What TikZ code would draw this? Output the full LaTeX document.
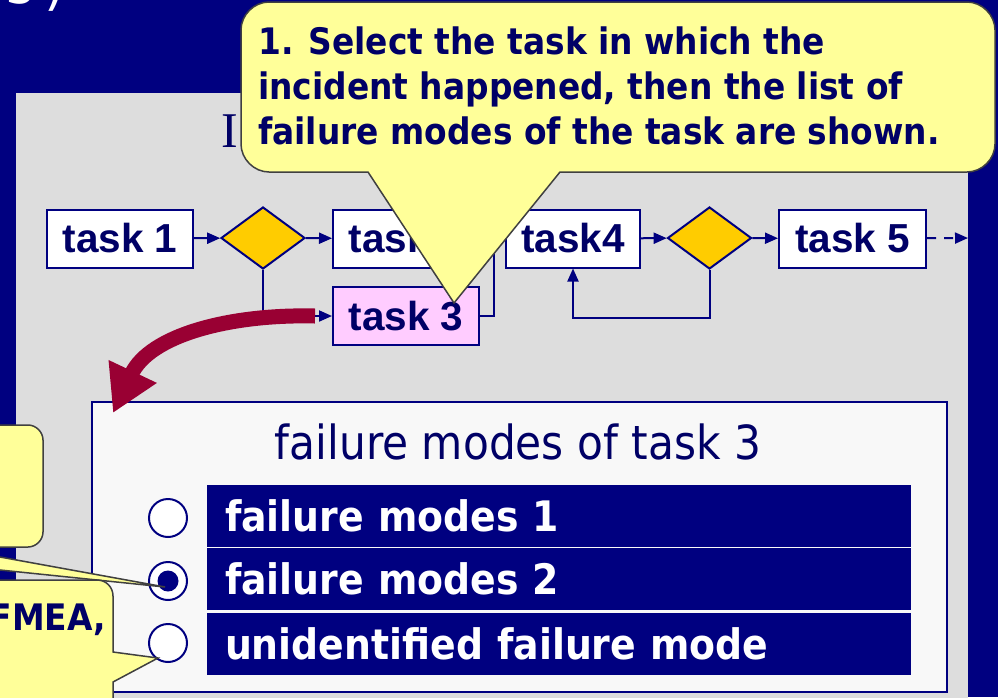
\documentclass[tikz,border=0pt]{standalone}
\usepackage{fontspec}
\usetikzlibrary{arrows.meta,shapes.geometric}
\newfontfamily\tahoma[FakeStretch=0.9]{DejaVu Sans}
\newfontfamily\arialf{Liberation Sans}
\newfontfamily\timesf{Liberation Serif}
\definecolor{navybg}{HTML}{000080}
\definecolor{panelgray}{HTML}{DDDDDD}
\definecolor{txtnavy}{HTML}{000066}
\definecolor{calloutfill}{HTML}{FFFF99}
\definecolor{calloutline}{HTML}{404040}
\definecolor{diafill}{HTML}{FFCC00}
\definecolor{pinkfill}{HTML}{FFCCFF}
\definecolor{redarrow}{HTML}{990033}
\definecolor{listbg}{HTML}{F8F8F8}
\begin{document}
\begin{tikzpicture}[x=1pt,y=-1pt,
 taskbox/.style={draw=navybg, line width=2pt, fill=white, minimum width=146pt, minimum height=58pt, inner sep=0pt, text=txtnavy, font=\arialf\bfseries\fontsize{40.5}{44}\selectfont},
 decision/.style={diamond, draw=navybg, line width=2pt, fill=diafill, minimum width=84pt, minimum height=62pt, inner sep=0pt},
 conn/.style={draw=navybg, line width=2pt, -{Triangle[length=13pt,width=11pt]}},
 callout/.style={fill=calloutfill, draw=calloutline, line width=1.5pt, line join=miter},
 optbar/.style={fill=navybg, minimum width=704pt, minimum height=62pt, inner xsep=18pt, text width=668pt, align=left, text=white, font=\tahoma\bfseries\fontsize{42}{46}\selectfont},
 radio/.style={circle, draw=navybg, line width=2pt, fill=white, minimum size=38pt, inner sep=0pt},
]
\useasboundingbox (0,0) rectangle (998,697);
\clip (0,0) rectangle (998,697);
% background
\fill[navybg] (0,0) rectangle (998,697);
\node[anchor=base west, inner sep=0pt, text=white, font=\tahoma\fontsize{60}{64}\selectfont] (ttl) at (6,3) {s\kern10pt)};
% gray panel
\fill[panelgray] (16,93) rectangle (968,705);
\node[anchor=base west, inner sep=0pt, text=txtnavy, font=\timesf\fontsize{50}{54}\selectfont] (ptitle) at (221,147) {I};
% flow
\node[taskbox] (t1) at (120,238.5) {task 1};
\node[decision] (d1) at (263,238) {};
\node[taskbox] (t2) at (406,238.5) {task 2};
\node[taskbox, fill=pinkfill] (t3) at (406,316) {task 3};
\node[taskbox, minimum width=134pt] (t4) at (573,238.5) {task4};
\node[decision] (d2) at (709.5,238) {};
\node[taskbox, minimum width=147pt] (t5) at (852.5,238.5) {task 5};
\coordinate (dend) at (968,238);
\draw[conn] (t1) -- (d1);
\draw[conn] (d1) -- (t2);
\draw[conn] (d1.south) |- (t3.west);
\draw[conn] (t3.east) -- ++(14,0) |- (t4.west);
\draw[conn] (t4) -- (d2);
\draw[conn] (d2) -- (t5);
\draw[conn] (d2.south) -- ++(0,48) -| (t4.south);
\draw[conn, dash pattern=on 9pt off 8pt] (t5) -- (dend);
% failure list
\node[draw=navybg, line width=1.5pt, fill=listbg, minimum width=855pt, minimum height=290pt, inner sep=0pt] (panel) at (519.5,547) {};
\node[anchor=base, inner sep=0pt, text=txtnavy, font=\tahoma\fontsize{47}{50}\selectfont] (ltitle) at (518,459) {failure modes of task 3};
\node[optbar] (b1) at (559,516) {failure modes 1};
\node[optbar] (b2) at (559,579) {failure modes 2};
\node[optbar] (b3) at (559,644) {unidentified failure mode};
\node[radio] (r1) at (168,518) {};
\node[radio] (r2) at (168,581) {};
\node[radio] (r3) at (168,643) {};
\node[circle, fill=navybg, minimum size=21pt, inner sep=0pt] (r2dot) at (r2) {};
% red arrow
\coordinate (rstart) at (315,316);
\coordinate (rend) at (113,413);
\draw[redarrow, line width=15pt, -{Triangle[length=46pt,width=50pt]}] (rstart) .. controls (230,314) and (150,335) .. (rend);
% left callouts
\draw[callout] (-300,425) -- (28,425) .. controls (36,425) and (43,432) .. (43,440) -- (43,532) .. controls (43,540) and (36,547) .. (28,547) -- (-55,547) -- (165,587) -- (-223,547) -- (-300,547) -- cycle;
\draw[callout] (-300,580) -- (97,580) .. controls (106,580) and (113,587) .. (113,596) -- (113,652) -- (158,658) -- (113,682) -- (113,760) -- (-300,760) -- cycle;
\node[anchor=base east, inner sep=0pt, text=txtnavy, font=\tahoma\bfseries\fontsize{36.5}{45}\selectfont] (cbtxt) at (106,630) {FMEA,};
% main callout
\draw[callout] (368,172) -- (454,303) -- (560,172) -- (967,172) .. controls (982,172) and (995,159) .. (995,144) -- (995,30) .. controls (995,15) and (982,2) .. (967,2) -- (269,2) .. controls (254,2) and (241,15) .. (241,30) -- (241,144) .. controls (241,159) and (254,172) .. (269,172) -- cycle;
\node[anchor=north west, inner sep=0pt, align=left, text=txtnavy, font=\tahoma\bfseries\fontsize{36.5}{45}\selectfont] (c1txt) at (258,27) {1. Select the task in which the\\incident happened, then the list of\\failure modes of the task are shown.};
\end{tikzpicture}
\end{document}
